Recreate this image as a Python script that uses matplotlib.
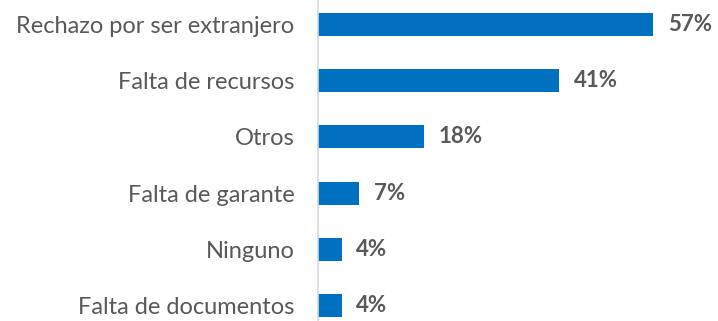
import matplotlib.pyplot as plt

# motivos y porcentajes
motivos = ["Rechazo por ser extranjero", "Falta de recursos", "Otros",
           "Falta de garante", "Ninguno", "Falta de documentos"]
porcentajes = [57, 41, 18, 7, 4, 4]

azul = "#0070C0"
gris = "#595959"
fuente = "Lato"

fig = plt.figure(figsize=(7.18, 3.21), dpi=100)
ax = fig.add_axes([318 / 718, -13 / 321, 400 / 718, 338 / 321])

y = list(range(len(motivos)))
ax.barh(y, porcentajes, height=0.41, color=azul)
ax.set_ylim(len(motivos) - 0.5, -0.5)
ax.set_xlim(0, 68)

for yi, v in zip(y, porcentajes):
    ax.text(v + 2.5, yi, f"{v}%", va="center", ha="left",
            fontsize=16, fontweight="bold", color=gris, family=fuente)

ax.set_yticks(y)
ax.set_yticklabels(motivos, fontsize=17, color=gris, family=fuente)
ax.tick_params(axis="y", length=0, pad=17)
ax.set_xticks([])

for s in ["top", "right", "bottom"]:
    ax.spines[s].set_visible(False)
ax.spines["left"].set_color("#d9d9d9")
ax.spines["left"].set_linewidth(1.2)

fig.savefig("out.png", dpi=100)
